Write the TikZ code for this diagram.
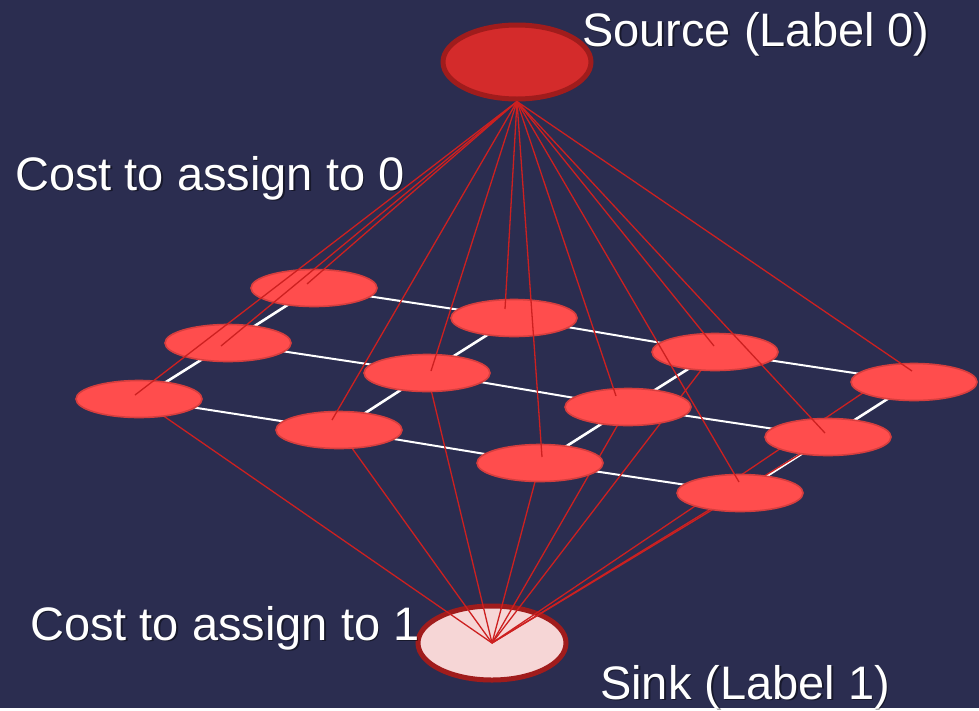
\documentclass[tikz,border=0pt]{standalone}
\usepackage{fontspec}
\setmainfont{Liberation Sans}
\usetikzlibrary{shapes.geometric}

\definecolor{bg}{RGB}{43,45,80}
\definecolor{gridfill}{RGB}{255,77,77}
\definecolor{gridrim}{RGB}{214,62,62}
\definecolor{wire}{RGB}{205,32,32}
\definecolor{srcfill}{RGB}{212,43,43}
\definecolor{rim}{RGB}{160,28,28}
\definecolor{sinkfill}{RGB}{246,214,214}

\pgfdeclarelayer{back}
\pgfdeclarelayer{wires}
\pgfdeclarelayer{front}
\pgfsetlayers{back,wires,main,front}

\begin{document}
\begin{tikzpicture}[x=1pt,y=-1pt,
  pixel/.style={ellipse, inner sep=0pt, minimum width=126pt, minimum height=37pt,
                fill=gridfill, draw=gridrim, line width=1.6pt},
  terminal/.style={ellipse, inner sep=0pt, minimum width=148pt, minimum height=74pt,
                   draw=rim, line width=5pt},
  rowlink/.style={draw=white, line width=2pt},
  collink/.style={draw=white, line width=2.6pt},
  tedge/.style={draw=wire, line width=1.3pt},
  caption/.style={anchor=base west, inner sep=0pt, text=white,
                  font=\fontsize{47}{56}\selectfont},
  shade/.style={caption, text=black, opacity=0.45}]

% backdrop
\begin{pgfonlayer}{back}
  \fill[bg] (0,0) rectangle (979,708);
\end{pgfonlayer}

% the 3x4 grid of pixel nodes
\node[pixel] (A) at (314,288) {};
\node[pixel] (B) at (228,343) {};
\node[pixel] (C) at (139,399) {};
\node[pixel] (D) at (514,318) {};
\node[pixel] (E) at (427,373) {};
\node[pixel] (F) at (339,430) {};
\node[pixel] (G) at (715,352) {};
\node[pixel] (H) at (628,407) {};
\node[pixel] (I) at (540,463) {};
\node[pixel] (J) at (914,382) {};
\node[pixel] (K) at (828,437) {};
\node[pixel] (L) at (740,493) {};

% neighbourhood links, sink and t-edges behind the pixels
\begin{pgfonlayer}{wires}
  \draw[rowlink] (A.center) -- (D.center) -- (G.center) -- (J.center);
  \draw[rowlink] (B.center) -- (E.center) -- (H.center) -- (K.center);
  \draw[rowlink] (C.center) -- (F.center) -- (I.center) -- (L.center);
  \draw[collink] (A.center) -- (B.center) -- (C.center);
  \draw[collink] (D.center) -- (E.center) -- (F.center);
  \draw[collink] (G.center) -- (H.center) -- (I.center);
  \draw[collink] (J.center) -- (K.center) -- (L.center);
  \node[terminal, fill=sinkfill] (T) at (492,643) {};
  \foreach \n/\dx in {C/0, E/0, F/0, G/0, H/0, I/0, J/-35, K/0, L/0}
    \draw[tedge] ([xshift=\dx pt]\n.center) -- (T.center);
\end{pgfonlayer}

% source, its edges and the captions on top
\begin{pgfonlayer}{front}
  \node[terminal, fill=srcfill] (S) at (517,62) {};
  \foreach \n/\dx/\dy in {A/-7/-4, B/-7/3, C/-4/-4, D/-9/-9, E/4/-2, F/-7/-10,
                          G/-1/-6, H/-12/-11, I/2/-6, J/-2/-11, K/-3/-4, L/-1/-11}
    \draw[tedge] (S.south) -- ([shift={(\dx,\dy)}]\n.center);

  \node[shade]   at (583.5,47.5)  {Source (Label 0)};
  \node[caption] (srclab) at (582,46) {Source (Label 0)};
  \node[shade]   at (16.5,191.5)  {Cost to assign to 0};
  \node[caption] (c0lab) at (15,190) {Cost to assign to 0};
  \node[shade]   at (31.5,641.5)  {Cost to assign to 1};
  \node[caption] (c1lab) at (30,640) {Cost to assign to 1};
  \node[shade]   at (601.5,700.5) {Sink (Label 1)};
  \node[caption] (snklab) at (600,699) {Sink (Label 1)};
\end{pgfonlayer}
\end{tikzpicture}
\end{document}
